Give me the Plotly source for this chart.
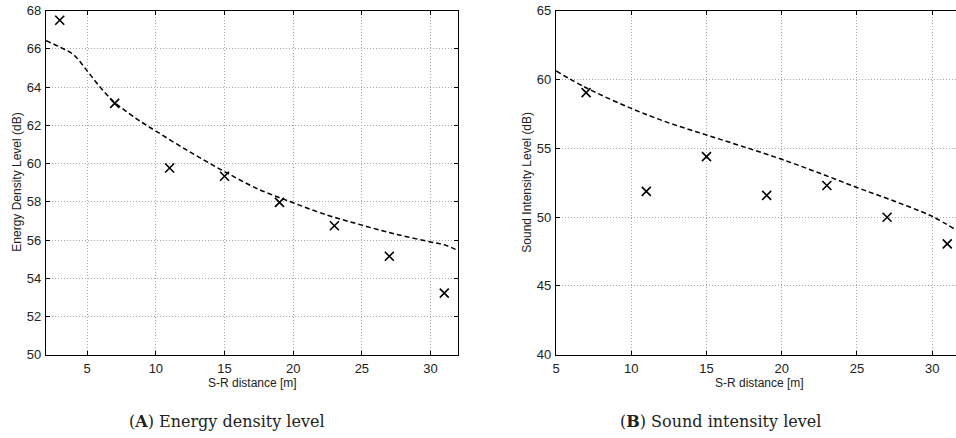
import plotly.graph_objects as go

# ---- data ----
# (A) Energy density level
meas_x_a = [3, 7, 11, 15, 19, 23, 27, 31]
meas_y_a = [67.5, 63.15, 59.77, 59.34, 57.97, 56.75, 55.15, 53.22]
model_x_a = [2, 3, 4, 5, 6, 7, 8, 9, 10, 12.5, 15, 17.5, 20, 22.5, 25, 27.5, 30, 31, 32]
model_y_a = [66.43, 66.1, 65.7, 64.85, 63.95, 63.2, 62.65, 62.15, 61.7, 60.6, 59.58,
             58.65, 57.95, 57.3, 56.78, 56.3, 55.9, 55.75, 55.45]

# (B) Sound intensity level
meas_x_b = [7, 11, 15, 19, 23, 27, 31]
meas_y_b = [59.05, 51.87, 54.39, 51.58, 52.3, 49.99, 48.05]
model_x_b = [5, 7, 10, 12.5, 15, 17.5, 20, 22.5, 25, 27.5, 30, 31.6]
model_y_b = [60.62, 59.4, 57.9, 56.85, 55.97, 55.1, 54.2, 53.2, 52.15, 51.15, 50.05, 49.05]

x_ticks = [5, 10, 15, 20, 25, 30]
y_ticks_a = [50, 52, 54, 56, 58, 60, 62, 64, 66, 68]
y_ticks_b = [40, 45, 50, 55, 60, 65]

x_title = "S-R distance [m]"
y_title_a = "Energy Density Level (dB)"
y_title_b = "Sound Intensity Level (dB)"
caption_a = "(<b>A</b>) Energy density level"
caption_b = "(<b>B</b>) Sound intensity level"

# ---- figure ----
W, H = 956, 438


def px(v):
    return v / W


def py(v):
    return (H - v) / H


fig = go.Figure()

line_style = dict(color="black", width=1.5, dash="5px,3px")
marker_style = dict(symbol="x-thin", size=9, line=dict(color="black", width=1.6), color="black")

fig.add_trace(go.Scatter(x=model_x_a, y=model_y_a, mode="lines", line=line_style,
                         line_shape="spline", xaxis="x", yaxis="y", showlegend=False))
fig.add_trace(go.Scatter(x=meas_x_a, y=meas_y_a, mode="markers", marker=marker_style,
                         xaxis="x", yaxis="y", showlegend=False))
fig.add_trace(go.Scatter(x=model_x_b, y=model_y_b, mode="lines", line=line_style,
                         line_shape="spline", xaxis="x2", yaxis="y2", showlegend=False))
fig.add_trace(go.Scatter(x=meas_x_b, y=meas_y_b, mode="markers", marker=marker_style,
                         xaxis="x2", yaxis="y2", showlegend=False, cliponaxis=False))

tick_font = dict(family="Liberation Sans, Arial, sans-serif", size=13, color="#222")
ydom = [py(354.7), py(10.7)]

common = dict(showline=True, linecolor="black", linewidth=1.2, ticks="inside", ticklen=4,
              tickcolor="black", showgrid=True, gridcolor="#a8a8a8", griddash="1px,2px",
              gridwidth=1, zeroline=False, tickfont=tick_font, automargin=False,
              ticklabeloverflow="allow")

fig.update_layout(
    width=W, height=H,
    margin=dict(l=0, r=0, t=0, b=0, autoexpand=False),
    paper_bgcolor="white", plot_bgcolor="white",
    xaxis=dict(domain=[px(46), px(458)], range=[2, 32], tickvals=x_ticks, mirror="ticks",
               anchor="y", ticklabelstandoff=2, **common),
    yaxis=dict(domain=ydom, range=[50, 68], tickvals=y_ticks_a, mirror="ticks",
               anchor="x", ticklabelstandoff=1, **common),
    xaxis2=dict(domain=[px(556), 1.0], range=[5, 31.58], tickvals=x_ticks, mirror="ticks",
                anchor="y2", ticklabelstandoff=2, **common),
    yaxis2=dict(domain=ydom, range=[40, 65], tickvals=y_ticks_b, mirror=False,
                anchor="x2", ticklabelstandoff=1, **common),
)

title_font = dict(family="Liberation Sans, Arial, sans-serif", size=12, color="#222")
cap_font = dict(family="DejaVu Serif, serif", size=16, color="#222")

ann = [
    dict(text=x_title, x=px(252), y=py(382.5), font=title_font),
    dict(text=x_title, x=px(759), y=py(382.5), font=title_font),
    dict(text=y_title_a, x=px(17), y=py(182.7), textangle=-90, font=title_font),
    dict(text=y_title_b, x=px(527), y=py(182.7), textangle=-90, font=title_font),
    dict(text=caption_a, x=px(227), y=py(421), font=cap_font),
    dict(text=caption_b, x=px(720), y=py(421), font=cap_font),
]
for a in ann:
    a.update(xref="paper", yref="paper", showarrow=False, xanchor="center", yanchor="middle")
fig.update_layout(annotations=ann)

# remove the default 8px page margin so the figure starts at the window's corner
fig.write_html("out.html", config={"displayModeBar": False},
               post_script="document.body.style.margin='0px';")
